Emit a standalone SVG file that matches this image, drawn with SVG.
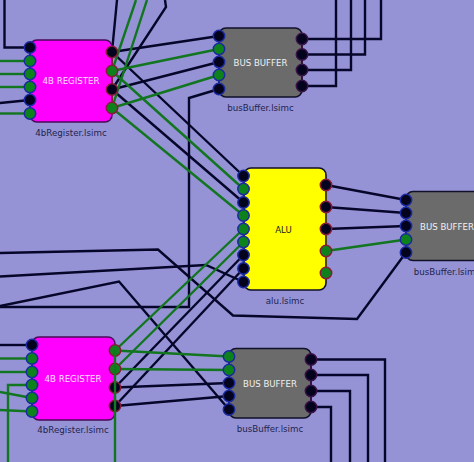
<svg xmlns="http://www.w3.org/2000/svg" width="474" height="462" viewBox="0 0 474 462">
<style>
.bg{fill:#9593d5}
.w{fill:none;stroke-width:2.4;stroke-linejoin:miter}
.k{stroke:#06062a}
.g{stroke:#12751f}
.box{stroke:#10102a;stroke-width:1.6}
.reg{fill:#ff00ff;stroke:#4a0a5a}
.buf{fill:#6b6b6b}
.alu{fill:#ffff00}
.title{font:8.600px "DejaVu Sans",sans-serif;text-anchor:middle}
.cap{font:8.700px "DejaVu Sans",sans-serif;text-anchor:middle;fill:#23234f}
.stem{stroke-width:1.600;fill:none}
.pk{fill:#03031e;stroke-width:1.500}
.pg{fill:#0d821c;stroke-width:1.500}
.in{stroke:#1a2aa0}
.ou{stroke:#8a1a3a}
.ob{stroke:#3a1048}
.al{stroke:#5a4a10}
</style>
<defs>
<circle id="p" r="5.700"/>
</defs>
<rect class="bg" width="474" height="462"/>
<g id="connectors">
<g class="w k">
<path d="M4.500 0V47.500H30"/>
<path d="M0 103L30 100"/>
<path d="M117 0L112 52"/>
<path d="M165 0L166 7L112 89.500"/>
<path d="M112 52L219 36"/>
<path d="M112 89.500L219 62"/>
<path d="M219 89L189 98V307H0"/>
<path d="M302 39H381V0"/>
<path d="M302 54.500H365V0"/>
<path d="M302 70H351V0"/>
<path d="M302 86H336V0"/>
<path d="M112 52L243.500 176"/>
<path d="M112 89.500L243.500 202.500"/>
<path d="M115 387.500L243.500 255"/>
<path d="M115 406L243.500 268.500"/>
<path d="M0 253L158 249.500L233 315.500L357 319L406 252.500"/>
<path d="M0 276.500L206 265L243.500 282"/>
<path d="M0 306L119 281.500L229 409.500"/>
<path d="M0 345H32"/>
<path d="M115 387.500L229 383"/>
<path d="M115 406L229 396"/>
<path d="M326 185L406 200"/>
<path d="M326 207L406 213"/>
<path d="M326 229L406 226"/>
<path d="M311 359.500H385V462"/>
<path d="M311 375H368V462"/>
<path d="M311 391H350V462"/>
<path d="M311 407H331V462"/>
</g>
<g class="w g">
<path d="M0 61H30"/>
<path d="M0 74H30"/>
<path d="M0 87H30"/>
<path d="M0 113.500H30"/>
<path d="M136 0L112 71"/>
<path d="M147 0L112 108"/>
<path d="M112 71L219 49"/>
<path d="M112 108L219 75"/>
<path d="M112 71L243.500 189"/>
<path d="M112 108L243.500 215.500"/>
<path d="M115 350.500L243.500 229"/>
<path d="M115 369L243.500 242"/>
<path d="M326 251L406 239.500"/>
<path d="M0 358.500H32"/>
<path d="M0 372H32"/>
<path d="M8 462V385H32"/>
<path d="M0 392L32 398"/>
<path d="M0 410L32 411.500"/>
<path d="M115 350.500L229 356.500"/>
<path d="M115 369L229 370"/>
</g>
</g>
<g id="reg1">
<rect class="box reg" x="30" y="40" width="82" height="82" rx="7"/>
<path class="stem in" d="M30 47.500V113.500"/><path class="stem ou" d="M112 52V108"/>
<g class="in"><use href="#p" class="pk" x="30" y="47.500"/><use href="#p" class="pg" x="30" y="61"/><use href="#p" class="pg" x="30" y="74"/><use href="#p" class="pg" x="30" y="87"/><use href="#p" class="pk" x="30" y="100"/><use href="#p" class="pg" x="30" y="113.500"/></g>
<g class="ou"><use href="#p" class="pk" x="112" y="52"/><use href="#p" class="pg" x="112" y="71"/><use href="#p" class="pk" x="112" y="89.500"/><use href="#p" class="pg" x="112" y="108"/></g>
<text class="title" x="71" y="84" fill="#ffe0ff">4B REGISTER</text>
<text class="cap" x="71" y="136">4bRegister.lsimc</text>
</g>
<g id="buf1">
<rect class="box buf" x="219" y="28" width="83" height="69" rx="7"/>
<path class="stem in" d="M219 36V89"/><path class="stem ob" d="M302 39V86"/>
<g class="in"><use href="#p" class="pk" x="219" y="36"/><use href="#p" class="pg" x="219" y="49"/><use href="#p" class="pk" x="219" y="62"/><use href="#p" class="pg" x="219" y="75"/><use href="#p" class="pk" x="219" y="89"/></g>
<g class="ob"><use href="#p" class="pk" x="302" y="39"/><use href="#p" class="pk" x="302" y="54.500"/><use href="#p" class="pk" x="302" y="70"/><use href="#p" class="pk" x="302" y="86"/></g>
<text class="title" x="260.500" y="66" fill="#f0f0f0">BUS BUFFER</text>
<text class="cap" x="260.500" y="111">busBuffer.lsimc</text>
</g>
<g id="alu">
<rect class="box alu" x="244" y="168" width="82" height="122" rx="7"/>
<path class="stem in" d="M243.500 176V282"/><path class="stem al" d="M326 185V273"/>
<g class="in"><use href="#p" class="pk" x="243.500" y="176"/><use href="#p" class="pg" x="243.500" y="189"/><use href="#p" class="pk" x="243.500" y="202.500"/><use href="#p" class="pg" x="243.500" y="215.500"/><use href="#p" class="pg" x="243.500" y="229"/><use href="#p" class="pg" x="243.500" y="242"/><use href="#p" class="pk" x="243.500" y="255"/><use href="#p" class="pk" x="243.500" y="268.500"/><use href="#p" class="pk" x="243.500" y="282"/></g>
<g class="ou"><use href="#p" class="pk" x="326" y="185"/><use href="#p" class="pk" x="326" y="207"/><use href="#p" class="pk" x="326" y="229"/><use href="#p" class="pg" x="326" y="251"/><use href="#p" class="pg" x="326" y="273"/></g>
<text class="title" x="283.500" y="233" fill="#222">ALU</text>
<text class="cap" x="285" y="304">alu.lsimc</text>
</g>
<g id="buf2">
<rect class="box buf" x="406" y="191.500" width="90" height="69" rx="7"/>
<path class="stem in" d="M406 200V252.500"/>
<g class="in"><use href="#p" class="pk" x="406" y="200"/><use href="#p" class="pk" x="406" y="213"/><use href="#p" class="pk" x="406" y="226"/><use href="#p" class="pg" x="406" y="239.500"/><use href="#p" class="pk" x="406" y="252.500"/></g>
<text class="title" x="447" y="230" fill="#f0f0f0">BUS BUFFER</text>
<text class="cap" x="447" y="275">busBuffer.lsimc</text>
</g>
<g id="reg2">
<rect class="box reg" x="32" y="337" width="83" height="83" rx="7"/>
<path class="stem in" d="M32 345V411.500"/>
<g class="in"><use href="#p" class="pk" x="32" y="345"/><use href="#p" class="pg" x="32" y="358.500"/><use href="#p" class="pg" x="32" y="372"/><use href="#p" class="pg" x="32" y="385"/><use href="#p" class="pg" x="32" y="398"/><use href="#p" class="pg" x="32" y="411.500"/></g>
<g class="ou"><use href="#p" class="pg" x="115" y="350.500"/><use href="#p" class="pg" x="115" y="369"/><use href="#p" class="pk" x="115" y="387.500"/><use href="#p" class="pk" x="115" y="406"/></g>
<path class="w g" d="M115 350.500V462"/>
<text class="title" x="73" y="382" fill="#ffe0ff">4B REGISTER</text>
<text class="cap" x="73" y="433">4bRegister.lsimc</text>
</g>
<g id="buf3">
<rect class="box buf" x="229" y="348.500" width="82" height="69.500" rx="7"/>
<path class="stem in" d="M229 356.500V409.500"/><path class="stem ob" d="M311 359.500V407"/>
<g class="in"><use href="#p" class="pg" x="229" y="356.500"/><use href="#p" class="pg" x="229" y="370"/><use href="#p" class="pk" x="229" y="383"/><use href="#p" class="pk" x="229" y="396"/><use href="#p" class="pk" x="229" y="409.500"/></g>
<g class="ob"><use href="#p" class="pk" x="311" y="359.500"/><use href="#p" class="pk" x="311" y="375"/><use href="#p" class="pk" x="311" y="391"/><use href="#p" class="pk" x="311" y="407"/></g>
<text class="title" x="270" y="387" fill="#f0f0f0">BUS BUFFER</text>
<text class="cap" x="270" y="432">busBuffer.lsimc</text>
</g>
</svg>
